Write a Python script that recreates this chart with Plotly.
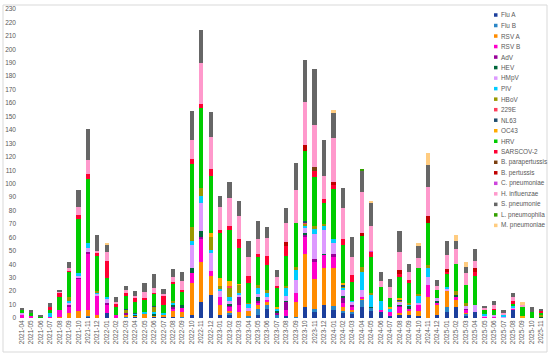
import plotly.graph_objects as go

months = ["2021-04","2021-05","2021-06","2021-07","2021-08","2021-09","2021-10","2021-11","2021-12",
          "2022-01","2022-02","2022-03","2022-04","2022-05","2022-06","2022-07","2022-08","2022-09","2022-10","2022-11","2022-12",
          "2023-01","2023-02","2023-03","2023-04","2023-05","2023-06","2023-07","2023-08","2023-09","2023-10","2023-11","2023-12",
          "2024-01","2024-02","2024-03","2024-04","2024-05","2024-06","2024-07","2024-08","2024-09","2024-10","2024-11","2024-12",
          "2025-01","2025-02","2025-03","2025-04","2025-05","2025-06","2025-07","2025-08","2025-09","2025-10","2025-11"]

flu_a = [0,0,0,0,0,0,0,1,0,4, 0,0,1,0,1,0.5,1,0,2,12, 17,2,2,0,0,2.5,6.5,0,1.7,0,
         8.4,4.7,9.7,6,3.5,3.5,8.4,5,5,1.7, 2,2,1.5,0,2,4.7,8.4,2,4.7,0, 0,0,6,0,0,0]
flu_b = [0,0,0,0,0,0,0,0.7,0,0, 0,1,0,0,0,0,0,1,0,0, 0,0,1.5,0,1.5,4,3.2,2,0,1,
         0,1.7,0,3,2,1,5,2.5,0,0, 0,0,0,0,0,3.7,0,1,0,0, 0,0,0,0,0,0]
rsv_a = [0,0,0,0,1,4,5,4.2,2.5,0, 0,1.5,1,3,1,1.5,4,3.7,24,30, 14,7.5,1.5,4.7,4,3,2,0,0,11,
         39.3,23,27.3,28,3,1.5,1,0,0,0, 1.7,3,3.5,15.9,8.4,12.4,5,1,0,0, 0,0,0,0,0,0]
rsv_b = [2,1.5,0,1,5,4.4,24,42,14,6, 2.2,0,0,0,0,0,2,2.5,7.5,17, 4,6.5,3,5,0,2,1.5,0,4.3,6.3,
         12.3,12.4,10,8.7,3,2.5,1.5,0,1,2.5, 4.5,1.5,5.4,8.7,1,0,2.5,2,0,1, 1,0,1,0,0,0]
adv = [0,0,0,0,0,1.3,1.5,1.5,0,1.5, 0,1,0,0,0,0,1,0,0,1.5, 0,0,1.5,6.2,0,1.5,0,2,6.2,0,
       1.8,2.4,0,2,4,1,0,0,0,0, 1,0,0,0,0,0,0,0.9,0,0, 0,0,0,0,0,0]
hev = [0,0,0,0,0,0,0,0,0,0, 0,0,0.5,0,1,0,2,2.5,3.5,4, 0,0,1,0,0,2.5,0,1,0.8,0,
       1.2,0,0.7,0,1,0,0,1,0,0, 1,2.4,0,0,1.2,0,1.5,0,0,0, 0,0,0,0,0,1]
hmpv = [1.5,0,0,0,0,1.2,0.5,2.5,1.5,3, 0,0,0,0,0,0,0,0,17.5,21, 13.5,4.5,2,1.5,2,2.5,2.5,0,3.7,10,
        4.5,18.6,18,8,5,2.5,5,0,0,0, 1.4,0,1,6.2,2,1.3,0,2,5,1, 1,1,1,0.5,0,0]
piv = [0,0,0,2.5,0,2,2.5,4.1,1.2,1.5, 0,0,0.5,1.7,1.5,1.5,1,0,2.5,5, 2,1,3,1,3,4,3,1.5,5.5,7.4,
       1,3.3,3.3,3,1,1,13.7,8.4,6.4,2.5, 0,1.5,5.7,6.2,0,0.8,0,0,0,1, 0,1.5,1,0,0,0]
hbov = [0,0,0,0,0,3,0,0,1.2,0, 0,2.5,0,0,4,0,1.5,0,10.7,6, 10,2,7.5,6.2,0.4,2.6,2,0,1.5,2,
        2,2.5,1.2,0,1,0,3.7,2,0,0, 1.5,1,0.6,2.5,0,0,2.9,2,0,0, 0,0,0,0,0,1]
e229 = [0,0,0,0,0,0,0,0,0,0, 0,0,0,0,0,0,0,0,0,0, 0,0,0.5,0,0,0,0,0,0,0,
        0.5,0,0,0,0,0,0,0,0,0, 0,0,0,0,0,0,0,0,0,0, 0,0,0,0,0,0]
nl63 = [0,0,0,0,0,0,0,0,0,0, 0,0.5,1,0,0.5,0,0,0,0,0, 0,0,0,0,0,0,0,0,0,0,
        1,0,0,0,1.3,0,0,0,0,0, 1,0,0,0,0,0,0,0,0,0, 0,0,0,0,0,0]
oc43 = [0,0,0,0,0,0,0,0,0,0, 0,0,0,0,0,0,0,0,0,0, 3,6,4,1,0,0,0,1.5,0,0,
        0,0,0,0,1,0,0,0,0,1.3, 0.5,0,0,0,0,0,0,0,0,0, 0,0,0,1,0,0]
hrv = [3,2.5,1.2,2.5,10,18.6,40,47.8,25.6,13.5, 5.7,10.6,8,8.7,8.9,6.2,13.3,9.9,47,60,
       42.5,33.5,37.8,26.3,14.9,21.1,18.7,14,22.5,32.8, 52,36.4,15.4,37.2,28.6,14,22.8,26.8,10.9,6.6,
       16,14.4,19.3,31,6.2,10.4,19.9,13.7,21.6,3, 4,0,1.5,6.5,4.7,2]
sars = [0,0,0,2,3,1.2,3,3.7,2.6,13.2, 2.3,1.2,3,1.5,1,7.4,1.2,1.2,3.5,3, 5,2.5,3.2,6.7,5.5,1.9,6.7,1.7,7.4,0,
        0,4.5,3,3.2,4.2,5,0,3.7,0,0, 2.5,2.5,0,0,0,1.2,0,0,3,0, 1,0,2.5,0,0,1]
b_parapert = [0,0,0,0,0,0,0,0,0,0, 0,0,0,0,0,0,0,0,0,0, 0,0,0,0,0,0,0,0,0,0,
              0,3,0,0,0,0,0,0,0,0, 0,0,0,0,0,0,0,0,0,0, 0,0,0,0,0,0]
b_pert = [0,0,0,0,0,0,0,0,0,0, 0,0,0,0,0,0,0,0,0,0, 0,0,0,0,0,0,0,0,3.2,0,
          5,0,0,1.8,0,0,2,0,0,0, 2.4,0,0,5.5,0,2,0,0,2.7,0, 0,0,0,0,0,0]
c_pneu = [0,0,0,0,0,0,0,0,0,0, 0,0,0,0,0,0,0,0,0,0, 0,0,0,0,0,0,0,0,0,0,
          0,0,0,0,0,0,0,0.6,0,0, 0,0,0,0,0,0,0,0,0,0, 0,0,0,0,0,0]
h_infl = [0,0,0,0,0.5,1.2,6,10,1.5,6.7, 2,2.5,1.5,4.7,3.1,1,3.5,7,14,30,
          24,17.4,21,17.3,13.9,11.2,13.1,6.5,13.7,24.5, 32,31,16.8,33,23,13.7,31,18.5,4.5,8.2,
          13.7,6.2,7.4,21.3,3,10.4,11.2,9.1,5.7,1.5, 2.5,1.5,2.5,1.5,0,0]
s_pneu = [1.2,1.7,0.5,3,1.3,4.8,12.5,23.5,11.4,5, 3.7,3,3.4,6.2,10.8,3.7,6.2,6.7,22,25,
          18,7.9,12,11,11.8,13.2,8.7,5.9,11.5,20.7, 31,42,26.8,18.6,14.9,14.3,15.7,17.4,6.7,6,
          15.6,5.5,9.4,16.7,4.5,10.7,6.2,4,8.3,1.4, 3.4,2,3.4,0,3.3,1.7]
l_pneu = [0,0,0,0,0,0,0,0,0,0, 0,0,0,0,0,0,0,0,0,0, 0,0,0,0,0,0,0,0,0,0,
          0,0,0,0,0,0,1,0,0,0, 0,0,0,0,0,0,0,0,0,0, 0,0,0,0,0,0]
m_pneu = [0,0,0,0,0,0,0,0,0,1.6, 0,0,0,0,0,0,0,0,0,0, 0,0,0,0,0,0,0,0,0,0,
          0,0,0,2.5,0,0,0,0.7,0,0, 0,0,1.8,8.6,0,0,4.2,4.3,0,0, 0,0,0,2.4,0,0]

series_names = ["Flu A","Flu B","RSV A","RSV B","AdV","HEV","HMpV","PIV","HBoV","229E","NL63","OC43",
                "HRV","SARSCOV-2","B. parapertussis","B. pertussis","C. pneumoniae","H. influenzae",
                "S. pneumonie","L. pneumophila","M. pneumoniae"]
series_values = [flu_a, flu_b, rsv_a, rsv_b, adv, hev, hmpv, piv, hbov, e229, nl63, oc43,
                 hrv, sars, b_parapert, b_pert, c_pneu, h_infl, s_pneu, l_pneu, m_pneu]
colors = ["#1c3f9c","#2b86c6","#ff8c00","#ff00cc","#990099","#00663a","#dd99ff","#00ccff","#999900",
          "#ff3d5a","#1f4e6e","#ffaa00","#00cc00","#ff0033","#7b3f10","#c00000","#cc44dd","#ff99cc",
          "#666666","#33a000","#ffcc80"]

W, H = 550, 355
L, R, T, B = 17, 4, 9, 37
PW, PH = W - L - R, H - T - B

def px(xp):
    return (xp - L) / PW

def py(yp):
    return (H - B - yp) / PH

fig = go.Figure()
for name, vals, col in zip(series_names, series_values, colors):
    fig.add_trace(go.Bar(x=months, y=vals, name=name, marker=dict(color=col, line=dict(width=0)),
                         showlegend=False))

shapes = []
annotations = []
shapes.append(dict(type="rect", xref="paper", yref="paper", x0=px(3), x1=px(547), y0=py(352), y1=py(5),
                   line=dict(color="#d9d9d9", width=1), fillcolor="rgba(0,0,0,0)", layer="below"))
for i, (name, col) in enumerate(zip(series_names, colors)):
    yc = 15 + 10.52 * i
    shapes.append(dict(type="rect", xref="paper", yref="paper", x0=px(494), x1=px(497.5),
                       y0=py(yc + 1.75), y1=py(yc - 1.75), line=dict(width=0), fillcolor=col))
    annotations.append(dict(xref="paper", yref="paper", x=px(498.5), y=py(yc), text=name, showarrow=False,
                            xanchor="left", yanchor="middle", font=dict(size=6.4, color="#595959")))

fig.update_layout(
    width=W, height=H, barmode="stack", bargap=0.55,
    margin=dict(l=L, r=R, t=T, b=B, autoexpand=False),
    paper_bgcolor="white", plot_bgcolor="white",
    font=dict(family="Liberation Sans", size=7, color="#595959"),
    shapes=shapes, annotations=annotations,
    xaxis=dict(type="category", tickangle=-90, tickfont=dict(size=6.5, color="#595959"),
               showgrid=False, showline=False, ticks="", ticklen=0, automargin=False),
    yaxis=dict(range=[0, 230], dtick=10, tickfont=dict(size=6.5, color="#595959"),
               showgrid=False, zeroline=False, showline=False, ticks="", automargin=False),
)

fig.write_html("out.html", config={"displayModeBar": False},
               post_script="document.body.style.margin='0';document.body.style.padding='0';")
